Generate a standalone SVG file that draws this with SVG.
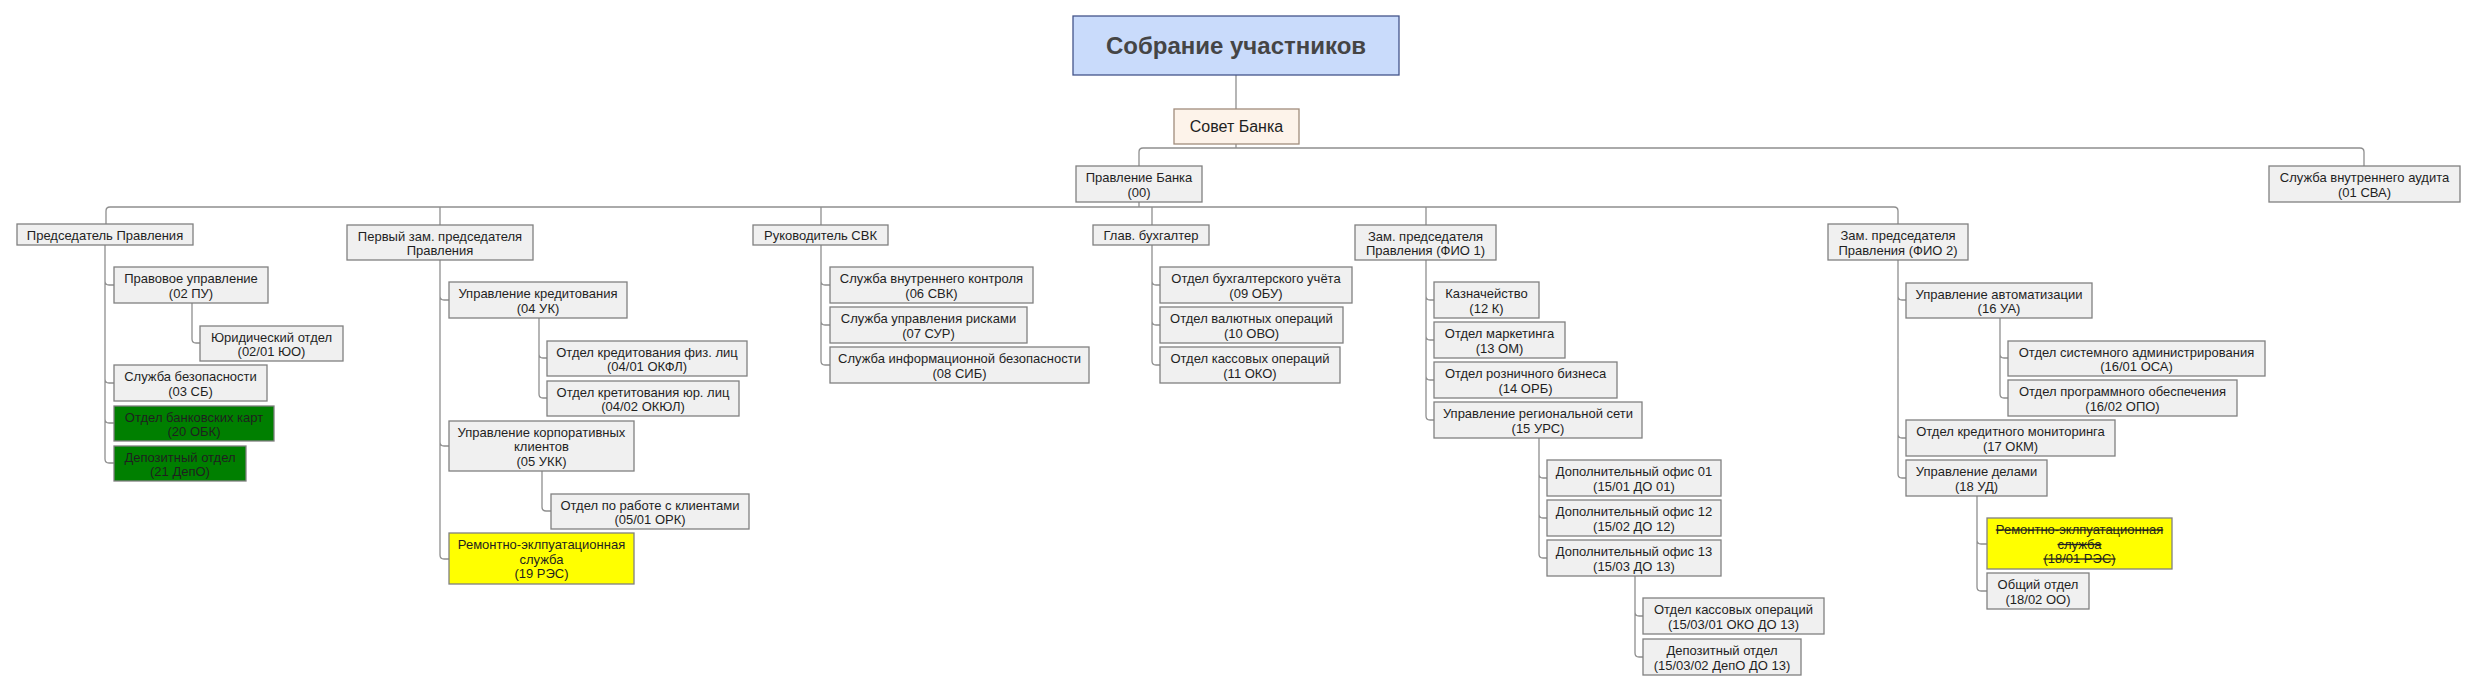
<svg xmlns="http://www.w3.org/2000/svg" width="2473" height="691" viewBox="0 0 2473 691">
<style>
.n rect{fill:#f0f0f0;stroke:#808080;stroke-width:1.3}
.n text{font-family:"Liberation Sans",Arial,sans-serif;font-size:13px;fill:#1f1f1f;text-anchor:middle}
.g rect{fill:#007f00}
.y rect{fill:#ffff00}
.s text{text-decoration:line-through}
#top rect{fill:#c9dbfb;stroke:#44558a}
#top text{font-size:24px;font-weight:bold;fill:#454545}
#sovet rect{fill:#fdf3ea;stroke:#a08c7c}
#sovet text{font-size:16px}
#conn path{fill:none;stroke:#8f8f8f;stroke-width:1.3}
</style>
<rect width="2473" height="691" fill="#fff"/>
<g id="conn">
<path d="M1236 75V109M1236 144V148M1139 166V152Q1139 148 1143 148H2360Q2364 148 2364 152V166"/>
<path d="M1139 202V207M106 224V211Q106 207 110 207H1894Q1898 207 1898 211V224M440 207V225M821 207V225M1152 207V225M1426 207V225"/>
<path d="M105 245V281Q105 285 109 285H114M105 245V379Q105 383 109 383H114M105 245V419Q105 423 109 423H114M105 245V459Q105 463 109 463H114M192 303V339Q192 343 196 343H200"/>
<path d="M440 260V296Q440 300 444 300H449M440 260V442Q440 446 444 446H449M440 260V555Q440 559 444 559H449M539 318V354Q539 358 543 358H547M539 318V394Q539 398 543 398H547M542 471V507Q542 511 546 511H551"/>
<path d="M821 245V281Q821 285 825 285H830M821 245V321Q821 325 825 325H830M821 245V361Q821 365 825 365H830"/>
<path d="M1152 245V281Q1152 285 1156 285H1160M1152 245V321Q1152 325 1156 325H1160M1152 245V361Q1152 365 1156 365H1160"/>
<path d="M1426 260V296Q1426 300 1430 300H1434M1426 260V336Q1426 340 1430 340H1434M1426 260V376Q1426 380 1430 380H1434M1426 260V416Q1426 420 1430 420H1434M1539 438V474Q1539 478 1543 478H1547M1539 438V514Q1539 518 1543 518H1547M1539 438V554Q1539 558 1543 558H1547M1635 576V612Q1635 616 1639 616H1643M1635 576V653Q1635 657 1639 657H1643"/>
<path d="M1898 260V296Q1898 300 1902 300H1906M1898 260V434Q1898 438 1902 438H1906M1898 260V474Q1898 478 1902 478H1906M2000 318V354Q2000 358 2004 358H2008M2000 318V394Q2000 398 2004 398H2008M1977 496V540Q1977 544 1981 544H1987M1977 496V587Q1977 591 1981 591H1987"/>
</g>
<g id="top" class="n"><rect x="1073" y="16" width="326" height="59"/><text x="1236" y="54">Собрание участников</text></g>
<g id="sovet" class="n"><rect x="1174" y="109" width="125" height="35"/><text x="1236.5" y="132">Совет Банка</text></g>
<g id="pravlenie" class="n"><rect x="1076" y="166" width="126" height="36"/><text x="1139" y="182">Правление Банка<tspan x="1139" dy="14.5">(00)</tspan></text></g>
<g id="audit" class="n"><rect x="2269" y="166" width="191" height="36"/><text x="2364.5" y="182">Служба внутреннего аудита<tspan x="2364.5" dy="14.5">(01 СВА)</tspan></text></g>
<g id="pred" class="n"><rect x="17" y="224" width="176" height="21"/><text x="105" y="239.5">Председатель Правления</text></g>
<g id="pervyi" class="n"><rect x="347" y="225" width="186" height="35"/><text x="440" y="240.5">Первый зам. председателя<tspan x="440" dy="14.5">Правления</tspan></text></g>
<g id="svkhead" class="n"><rect x="753" y="225" width="135" height="20"/><text x="820.5" y="240">Руководитель СВК</text></g>
<g id="glavbuh" class="n"><rect x="1093" y="225" width="116" height="20"/><text x="1151" y="240">Глав. бухгалтер</text></g>
<g id="fio1" class="n"><rect x="1355" y="225" width="141" height="35"/><text x="1425.5" y="240.5">Зам. председателя<tspan x="1425.5" dy="14.5">Правления (ФИО 1)</tspan></text></g>
<g id="fio2" class="n"><rect x="1828" y="224" width="140" height="36"/><text x="1898" y="240">Зам. председателя<tspan x="1898" dy="14.5">Правления (ФИО 2)</tspan></text></g>
<g id="pu" class="n"><rect x="114" y="267" width="154" height="36"/><text x="191" y="283">Правовое управление<tspan x="191" dy="14.5">(02 ПУ)</tspan></text></g>
<g id="yuo" class="n"><rect x="200" y="326" width="143" height="35"/><text x="271.5" y="341.5">Юридический отдел<tspan x="271.5" dy="14.5">(02/01 ЮО)</tspan></text></g>
<g id="sb" class="n"><rect x="114" y="365" width="153" height="36"/><text x="190.5" y="381">Служба безопасности<tspan x="190.5" dy="14.5">(03 СБ)</tspan></text></g>
<g id="obk" class="n g"><rect x="114" y="406" width="160" height="35"/><text x="194" y="421.5">Отдел банковских карт<tspan x="194" dy="14.5">(20 ОБК)</tspan></text></g>
<g id="depo" class="n g"><rect x="114" y="446" width="132" height="35"/><text x="180" y="461.5">Депозитный отдел<tspan x="180" dy="14.5">(21 ДепО)</tspan></text></g>
<g id="uk" class="n"><rect x="449" y="282" width="178" height="36"/><text x="538" y="298">Управление кредитования<tspan x="538" dy="14.5">(04 УК)</tspan></text></g>
<g id="okfl" class="n"><rect x="547" y="341" width="200" height="35"/><text x="647" y="356.5">Отдел кредитования физ. лиц<tspan x="647" dy="14.5">(04/01 ОКФЛ)</tspan></text></g>
<g id="okul" class="n"><rect x="547" y="381" width="192" height="35"/><text x="643" y="396.5">Отдел кретитования юр. лиц<tspan x="643" dy="14.5">(04/02 ОКЮЛ)</tspan></text></g>
<g id="ukk" class="n"><rect x="449" y="421" width="185" height="50"/><text x="541.5" y="436.5">Управление корпоративных<tspan x="541.5" dy="14.5">клиентов</tspan><tspan x="541.5" dy="14.5">(05 УКК)</tspan></text></g>
<g id="ork" class="n"><rect x="551" y="494" width="198" height="35"/><text x="650" y="509.5">Отдел по работе с клиентами<tspan x="650" dy="14.5">(05/01 ОРК)</tspan></text></g>
<g id="res19" class="n y"><rect x="449" y="533" width="185" height="51"/><text x="541.5" y="549">Ремонтно-эклпуатационная<tspan x="541.5" dy="14.5">служба</tspan><tspan x="541.5" dy="14.5">(19 РЭС)</tspan></text></g>
<g id="svk" class="n"><rect x="830" y="267" width="203" height="36"/><text x="931.5" y="283">Служба внутреннего контроля<tspan x="931.5" dy="14.5">(06 СВК)</tspan></text></g>
<g id="sur" class="n"><rect x="830" y="307" width="197" height="36"/><text x="928.5" y="323">Служба управления рисками<tspan x="928.5" dy="14.5">(07 СУР)</tspan></text></g>
<g id="sib" class="n"><rect x="830" y="347" width="259" height="36"/><text x="959.5" y="363">Служба информационной безопасности<tspan x="959.5" dy="14.5">(08 СИБ)</tspan></text></g>
<g id="obu" class="n"><rect x="1160" y="267" width="192" height="36"/><text x="1256" y="283">Отдел бухгалтерского учёта<tspan x="1256" dy="14.5">(09 ОБУ)</tspan></text></g>
<g id="ovo" class="n"><rect x="1160" y="307" width="183" height="36"/><text x="1251.5" y="323">Отдел валютных операций<tspan x="1251.5" dy="14.5">(10 ОВО)</tspan></text></g>
<g id="oko" class="n"><rect x="1160" y="347" width="180" height="36"/><text x="1250" y="363">Отдел кассовых операций<tspan x="1250" dy="14.5">(11 ОКО)</tspan></text></g>
<g id="kazn" class="n"><rect x="1434" y="282" width="105" height="36"/><text x="1486.5" y="298">Казначейство<tspan x="1486.5" dy="14.5">(12 К)</tspan></text></g>
<g id="om" class="n"><rect x="1434" y="322" width="131" height="36"/><text x="1499.5" y="338">Отдел маркетинга<tspan x="1499.5" dy="14.5">(13 ОМ)</tspan></text></g>
<g id="orb" class="n"><rect x="1434" y="362" width="183" height="36"/><text x="1525.5" y="378">Отдел розничного бизнеса<tspan x="1525.5" dy="14.5">(14 ОРБ)</tspan></text></g>
<g id="urs" class="n"><rect x="1434" y="402" width="208" height="36"/><text x="1538" y="418">Управление региональной сети<tspan x="1538" dy="14.5">(15 УРС)</tspan></text></g>
<g id="do01" class="n"><rect x="1547" y="460" width="174" height="36"/><text x="1634" y="476">Дополнительный офис 01<tspan x="1634" dy="14.5">(15/01 ДО 01)</tspan></text></g>
<g id="do12" class="n"><rect x="1547" y="500" width="174" height="36"/><text x="1634" y="516">Дополнительный офис 12<tspan x="1634" dy="14.5">(15/02 ДО 12)</tspan></text></g>
<g id="do13" class="n"><rect x="1547" y="540" width="174" height="36"/><text x="1634" y="556">Дополнительный офис 13<tspan x="1634" dy="14.5">(15/03 ДО 13)</tspan></text></g>
<g id="oko13" class="n"><rect x="1643" y="598" width="181" height="36"/><text x="1733.5" y="614">Отдел кассовых операций<tspan x="1733.5" dy="14.5">(15/03/01 ОКО ДО 13)</tspan></text></g>
<g id="depo13" class="n"><rect x="1643" y="639" width="158" height="36"/><text x="1722" y="655">Депозитный отдел<tspan x="1722" dy="14.5">(15/03/02 ДепО ДО 13)</tspan></text></g>
<g id="ua" class="n"><rect x="1906" y="283" width="186" height="35"/><text x="1999" y="298.5">Управление автоматизации<tspan x="1999" dy="14.5">(16 УА)</tspan></text></g>
<g id="osa" class="n"><rect x="2008" y="341" width="257" height="35"/><text x="2136.5" y="356.5">Отдел системного администрирования<tspan x="2136.5" dy="14.5">(16/01 ОСА)</tspan></text></g>
<g id="opo" class="n"><rect x="2008" y="380" width="229" height="36"/><text x="2122.5" y="396">Отдел программного обеспечения<tspan x="2122.5" dy="14.5">(16/02 ОПО)</tspan></text></g>
<g id="okm" class="n"><rect x="1906" y="420" width="209" height="36"/><text x="2010.5" y="436">Отдел кредитного мониторинга<tspan x="2010.5" dy="14.5">(17 ОКМ)</tspan></text></g>
<g id="ud" class="n"><rect x="1906" y="460" width="141" height="36"/><text x="1976.5" y="476">Управление делами<tspan x="1976.5" dy="14.5">(18 УД)</tspan></text></g>
<g id="res18" class="n y s"><rect x="1987" y="518" width="185" height="51"/><text x="2079.5" y="534">Ремонтно-эклпуатационная<tspan x="2079.5" dy="14.5">служба</tspan><tspan x="2079.5" dy="14.5">(18/01 РЭС)</tspan></text></g>
<g id="oo" class="n"><rect x="1987" y="573" width="102" height="36"/><text x="2038" y="589">Общий отдел<tspan x="2038" dy="14.5">(18/02 ОО)</tspan></text></g>
</svg>
